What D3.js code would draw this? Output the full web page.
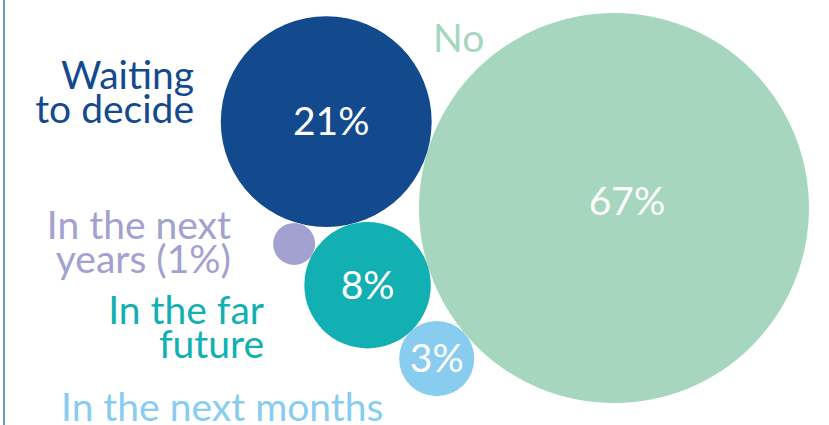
<!DOCTYPE html>
<html>
<head>
<meta charset="utf-8">
<script src="https://cdn.jsdelivr.net/npm/d3@7"></script>
<style>
  html, body { margin: 0; padding: 0; background: #ffffff; }
  svg { display: block; }
  text { font-family: Lato, "Open Sans", sans-serif; }
</style>
</head>
<body>
<div id="chart"></div>
<script>
// ---- data ----
const categories = ["No", "Waiting to decide", "In the far future", "In the next months", "In the next years"];
const values = [67, 21, 8, 3, 1];
const valueLabels = ["67%", "21%", "8%", "3%", null];
const categoryLabels = [["No"], ["Waiting", "to decide"], ["In the far", "future"], ["In the next months"], ["In the next", "years (1%)"]];
const colors = ["#a6d7be", "#134a8e", "#12b0b2", "#88cdef", "#a3a1d0"];

// ---- layout (not data) ----
const W = 829, H = 425;
const anchor = { x: 614, y: 208 };              // centre of the largest bubble
const firstAngle = Math.atan2(-87, -290);        // direction from the largest bubble to the second
const fontSize = 39;
const lineH = 33.5;
// label anchors: [x, baseline of first line, text-anchor]
const labelPos = [
  [433, 52, "start"],
  [194, 89, "end"],
  [264, 324, "end"],
  [61, 421, "start"],
  [231, 239, "end"]
];
const valueOffset = [[13, -7], [5, 0], [0, 0], [0, 0], [0, 0]];

const svg = d3.select("#chart").append("svg").attr("width", W).attr("height", H);

// left border line
svg.append("line").attr("x1", 4).attr("x2", 4).attr("y1", 0).attr("y2", H)
  .attr("stroke", "#6f93c9").attr("stroke-width", 2);

const r = d3.scalePow().exponent(0.53).domain([0, d3.max(values)]).range([0, 195]);

const nodes = values.map((v, i) => ({ i, v, r: r(v) }));

// place circle c tangent to circles a and b, side = +1/-1
function place(a, b, c, side) {
  const dx = b.x - a.x, dy = b.y - a.y;
  const d = Math.hypot(dx, dy);
  const da = a.r + c.r, db = b.r + c.r;
  const x = (da * da - db * db + d * d) / (2 * d);
  const h = Math.sqrt(Math.max(0, da * da - x * x));
  const ux = dx / d, uy = dy / d;
  c.x = a.x + x * ux - side * h * uy;
  c.y = a.y + x * uy + side * h * ux;
}

const [nNo, nWait, nFar, nMonths, nYears] = nodes;
nNo.x = anchor.x; nNo.y = anchor.y;
nWait.x = nNo.x + (nNo.r + nWait.r) * Math.cos(firstAngle);
nWait.y = nNo.y + (nNo.r + nWait.r) * Math.sin(firstAngle);
place(nNo, nWait, nFar, -1);
place(nNo, nFar, nMonths, -1);
place(nWait, nFar, nYears, 1);

svg.append("g").selectAll("circle").data(nodes).join("circle")
  .attr("cx", d => d.x).attr("cy", d => d.y).attr("r", d => d.r)
  .attr("fill", d => colors[d.i]);

svg.append("g").selectAll("text").data(nodes.filter(d => valueLabels[d.i]))
  .join("text")
  .attr("x", d => d.x + valueOffset[d.i][0])
  .attr("y", d => d.y + valueOffset[d.i][1])
  .attr("dy", "0.35em")
  .attr("text-anchor", "middle")
  .attr("fill", "#ffffff")
  .attr("font-size", fontSize)
  .text(d => valueLabels[d.i]);

const lg = svg.append("g");
categoryLabels.forEach((lines, i) => {
  const [x, y, anchorType] = labelPos[i];
  const t = lg.append("text")
    .attr("x", x).attr("y", y)
    .attr("text-anchor", anchorType)
    .attr("fill", colors[i])
    .attr("font-size", fontSize);
  lines.forEach((ln, k) => {
    t.append("tspan").attr("x", x).attr("y", y + k * lineH).text(ln);
  });
});
</script>
</body>
</html>
